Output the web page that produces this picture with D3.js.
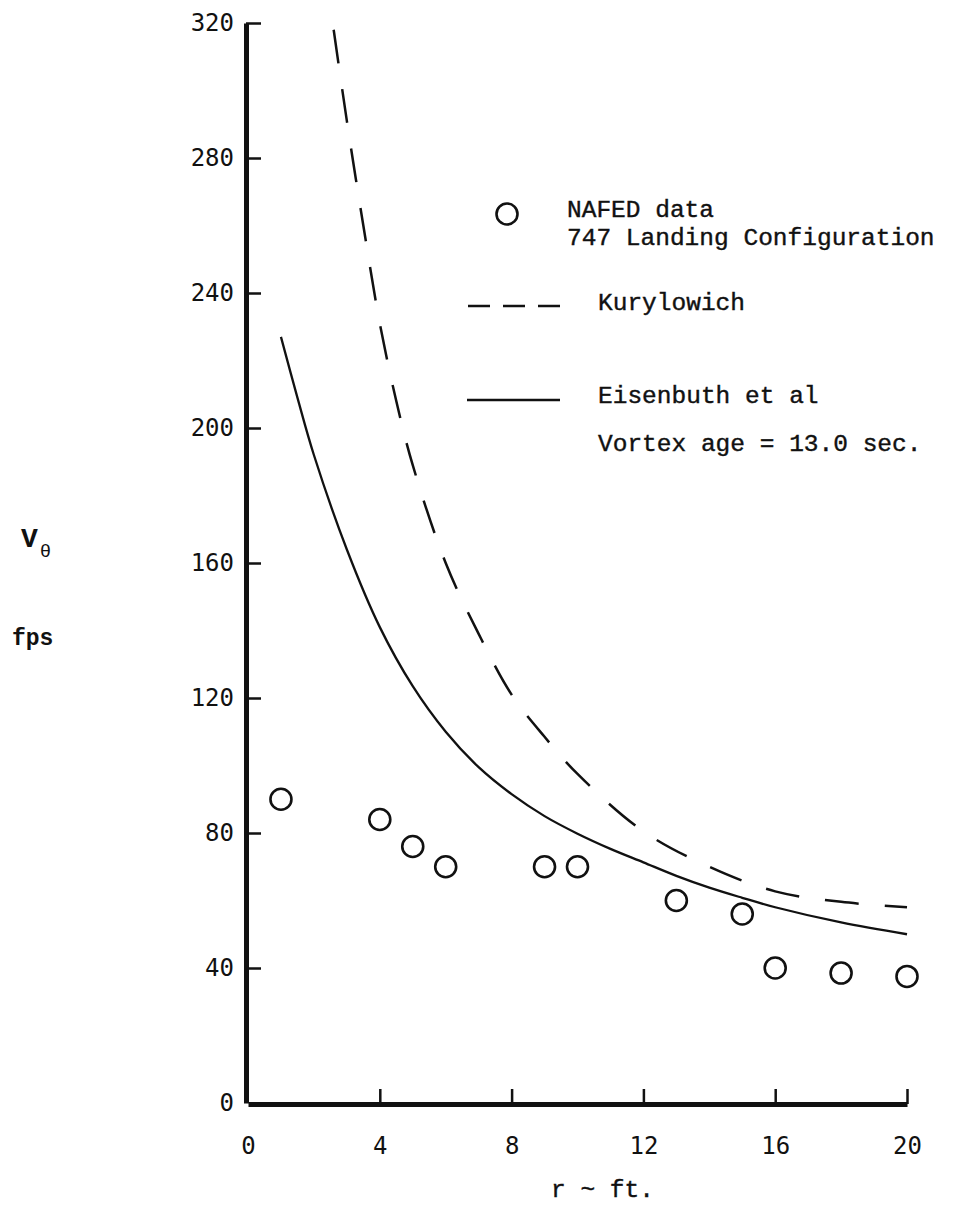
<!DOCTYPE html>
<html>
<head>
<meta charset="utf-8">
<script src="https://cdn.jsdelivr.net/npm/d3@7"></script>
<style>
  body { margin: 0; background: #fff; }
  svg { display: block; }
  .tick text { font-family: "DejaVu Sans Mono", monospace; font-size: 24px; fill: #111; }
  .lbl { font-family: "Liberation Mono", "DejaVu Sans Mono", monospace; font-size: 24.5px; fill: #111; stroke: #111; stroke-width: 0.4px; }
</style>
</head>
<body>
<div id="chart"></div>
<script>
// NAFED measured points
const dataR = [1, 4, 5, 6, 9, 10, 13, 15, 16, 18, 20];
const dataV = [90, 84, 76, 70, 70, 70, 60, 56, 40, 38.5, 37.5];

// Kurylowich (dashed)
const kurR = [2.6, 3, 3.5, 4, 4.5, 5, 6, 7, 8, 9, 10, 12, 14, 16, 18, 20];
const kurV = [318, 291, 260, 231, 208, 189, 160, 139, 121, 108.5, 97.5, 80.5, 70, 62.7, 59.6, 58];

// Eisenbuth et al (solid)
const eisR = [1, 1.5, 2, 3, 4, 5, 6, 7, 8, 9, 10, 11, 12, 13, 14, 15, 16, 18, 20];
const eisV = [227, 209, 192, 164, 141, 123.5, 110, 99.5, 91.5, 85, 79.8, 75.3, 71.3, 67.3, 63.8, 60.8, 58, 53.5, 50];

// axis ticks
const xTicks = [0, 4, 8, 12, 16, 20];
const yTicks = [0, 40, 80, 120, 160, 200, 240, 280, 320];

const W = 953, H = 1208;

const svg = d3.select("#chart").append("svg")
    .attr("width", W)
    .attr("height", H);

const x = d3.scaleLinear().domain([0, 20]).range([248, 907]);
const y = d3.scaleLinear().domain([0, 320]).range([1103, 23]);

// Y axis, ticks pointing into the plot
const yAxis = svg.append("g")
    .attr("transform", "translate(246,0)")
    .call(d3.axisLeft(y).tickValues(yTicks).tickSizeInner(-15).tickSizeOuter(0).tickPadding(12));
yAxis.select(".domain").attr("stroke", "#111").attr("stroke-width", 5);
yAxis.selectAll(".tick line").attr("stroke", "#111").attr("stroke-width", 2.5)
    .attr("opacity", d => d === 0 ? 0 : 1);

// X axis
const xAxis = svg.append("g")
    .attr("transform", "translate(0,1104)")
    .call(d3.axisBottom(x).tickValues(xTicks).tickSizeInner(-15).tickSizeOuter(0).tickPadding(33));
xAxis.select(".domain").attr("stroke", "#111").attr("stroke-width", 5);
xAxis.selectAll(".tick line").attr("stroke", "#111").attr("stroke-width", 2.5)
    .attr("opacity", d => d === 0 ? 0 : 1);

// Curves
const line = d3.line()
    .x(d => x(d[0]))
    .y(d => y(d[1]))
    .curve(d3.curveCatmullRom.alpha(0.5));

svg.append("path")
    .datum(kurR.map((r, i) => [r, kurV[i]]))
    .attr("d", line)
    .attr("fill", "none")
    .attr("stroke", "#111")
    .attr("stroke-width", 2.5)
    .attr("stroke-dasharray", "34,26");

svg.append("path")
    .datum(eisR.map((r, i) => [r, eisV[i]]))
    .attr("d", line)
    .attr("fill", "none")
    .attr("stroke", "#111")
    .attr("stroke-width", 2.3);

// Data circles
svg.selectAll("circle.pt")
    .data(dataR.map((r, i) => ({ r, v: dataV[i] })))
    .join("circle")
    .attr("class", "pt")
    .attr("cx", d => x(d.r))
    .attr("cy", d => y(d.v))
    .attr("r", 10.5)
    .attr("fill", "none")
    .attr("stroke", "#111")
    .attr("stroke-width", 2.6);

// Legend
const leg = svg.append("g");
leg.append("circle")
    .attr("cx", 507).attr("cy", 214).attr("r", 10.5)
    .attr("fill", "none").attr("stroke", "#111").attr("stroke-width", 2.6);
leg.append("text").attr("class", "lbl").attr("x", 567).attr("y", 217).text("NAFED data");
leg.append("text").attr("class", "lbl").attr("x", 567).attr("y", 245).text("747 Landing Configuration");

leg.append("line")
    .attr("x1", 468).attr("x2", 560).attr("y1", 306).attr("y2", 306)
    .attr("stroke", "#111").attr("stroke-width", 2.5)
    .attr("stroke-dasharray", "22,13");
leg.append("text").attr("class", "lbl").attr("x", 598).attr("y", 310).text("Kurylowich");

leg.append("line")
    .attr("x1", 467).attr("x2", 560).attr("y1", 400).attr("y2", 400)
    .attr("stroke", "#111").attr("stroke-width", 2.3);
leg.append("text").attr("class", "lbl").attr("x", 598).attr("y", 403).text("Eisenbuth et al");
leg.append("text").attr("class", "lbl").attr("x", 598).attr("y", 451).text("Vortex age = 13.0 sec.");

// Axis titles
const yt = svg.append("text")
    .attr("x", 21).attr("y", 547)
    .attr("font-family", "Liberation Mono, monospace")
    .attr("font-weight", "bold")
    .attr("font-size", 28)
    .attr("fill", "#111");
yt.append("tspan").text("V");
yt.append("tspan").attr("dy", 10).attr("dx", 2).attr("font-size", 19).attr("font-weight", "normal").text("θ");

svg.append("text")
    .attr("x", 12).attr("y", 645)
    .attr("font-family", "Liberation Mono, monospace")
    .attr("font-weight", "bold")
    .attr("font-size", 23)
    .attr("fill", "#111")
    .text("fps");

svg.append("text")
    .attr("class", "lbl")
    .attr("x", 551).attr("y", 1197)
    .text("r ~ ft.");
</script>
</body>
</html>
